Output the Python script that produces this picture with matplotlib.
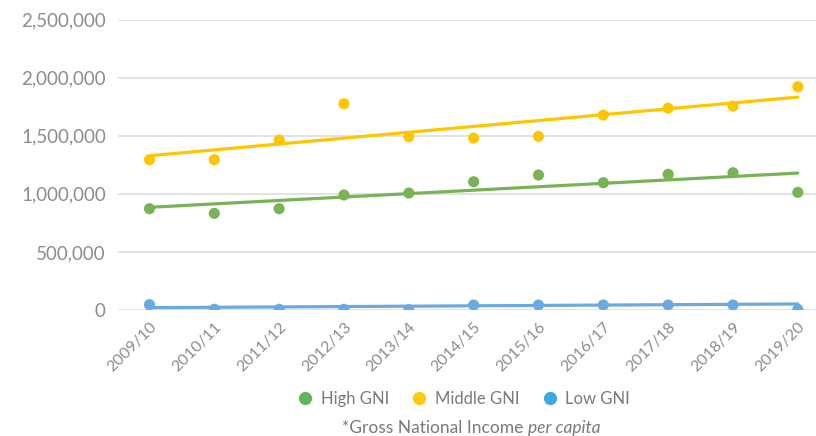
import matplotlib
matplotlib.use("Agg")
import matplotlib.pyplot as plt
import matplotlib.transforms as mtransforms
from matplotlib.lines import Line2D
import numpy as np

plt.rcParams['font.family'] = ['Lato', 'DejaVu Sans']

years = ["2009/10", "2010/11", "2011/12", "2012/13", "2013/14", "2014/15",
         "2015/16", "2016/17", "2017/18", "2018/19", "2019/20"]

high_gni = [872000, 832000, 872000, 990000, 1007000, 1104000,
            1162000, 1096000, 1168000, 1182000, 1013000]
middle_gni = [1294000, 1294000, 1463000, 1776000, 1492000, 1480000,
              1495000, 1678000, 1738000, 1756000, 1922000]
low_gni = [46000, 6000, 6000, 6000, 3000, 43000,
           43000, 43000, 43000, 43000, 6000]

# trend line values at first and last year
high_trend = [884000, 1179000]
middle_trend = [1328000, 1833000]
low_trend = [20000, 52000]

series_names = ["High GNI", "Middle GNI", "Low GNI"]
point_colors = ["#78b355", "#ffc600", "#6aaae0"]
legend_colors = ["#5fb55a", "#ffc90e", "#3caae0"]

fig = plt.figure(figsize=(8.16, 4.36), dpi=100)
ax = fig.add_axes([0.145, 0.289, 0.855, 0.666])

x = np.arange(len(years))
ends = [0, len(years) - 1]
for vals, trend, col in zip([high_gni, middle_gni, low_gni],
                            [high_trend, middle_trend, low_trend], point_colors):
    ax.plot(ends, trend, color=col, lw=2.3, solid_capstyle='round', zorder=3)
    ax.scatter(x, vals, s=64, color=col, edgecolors='none', zorder=4)

ax.set_ylim(0, 2500000)
ax.set_xlim(-0.48, 10.28)
ax.set_yticks(np.arange(0, 2500001, 500000))
ax.set_yticklabels([f"{v:,}" for v in range(0, 2500001, 500000)])
ax.set_xticks(x)
ax.set_xticklabels(years, rotation=45, ha='right', rotation_mode='anchor')
shift = mtransforms.ScaledTranslation(-7 / 100, 0, fig.dpi_scale_trans)
for lab in ax.get_xticklabels():
    lab.set_transform(lab.get_transform() + shift)

ax.grid(axis='y', color='#dedede', lw=1.2)
ax.set_axisbelow(True)
for s in ax.spines.values():
    s.set_visible(False)
ax.tick_params(axis='y', length=0, pad=9, labelsize=13.5, labelcolor='#8c8c8c')
ax.tick_params(axis='x', length=0, pad=7, labelsize=11.5, labelcolor='#8c8c8c')

handles = [Line2D([], [], marker='o', ls='none', markersize=9.5,
                  markerfacecolor=c, markeredgecolor='none') for c in legend_colors]
fig.legend(handles, series_names, loc='center', bbox_to_anchor=(0.568, 0.085),
           ncol=3, frameon=False, fontsize=12, labelcolor='#7a7a7a',
           handlelength=1.0, handletextpad=0.45, columnspacing=1.3)

fig.text(0.647, 0.018, "*Gross National Income ", ha='right', va='center',
         fontsize=12.5, color='#7a7a7a')
fig.text(0.647, 0.018, "per capita", ha='left', va='center',
         fontsize=12.5, color='#7a7a7a', style='italic')

fig.savefig("out.png", dpi=100)
